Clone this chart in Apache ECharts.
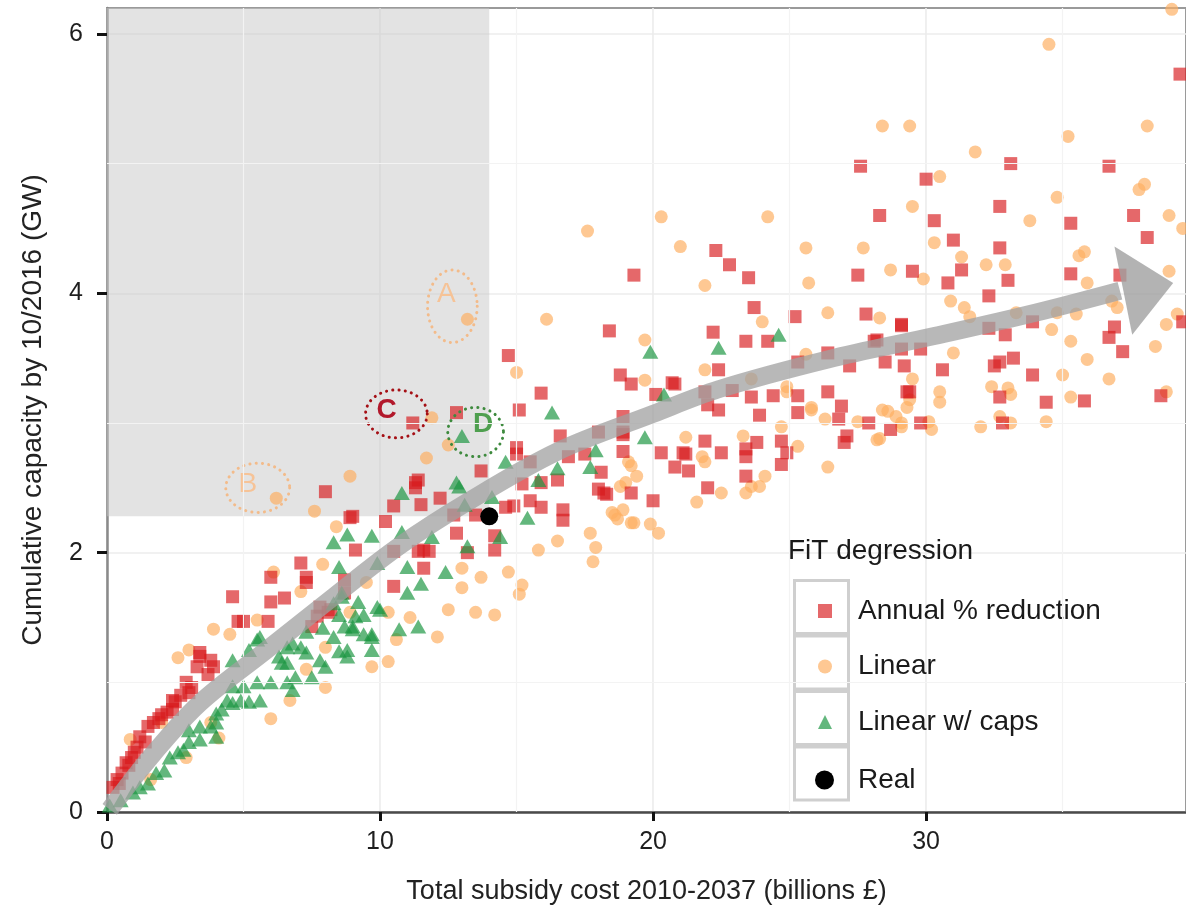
<!DOCTYPE html>
<html>
<head>
<meta charset="utf-8">
<script src="https://cdn.jsdelivr.net/npm/echarts@6/dist/echarts.min.js"></script>
<style>
html,body{margin:0;padding:0;background:#fff;}
#chart{width:1186px;height:913px;}
</style>
</head>
<body>
<div id="chart"></div>
<script>
// ---------------- DATA ----------------
const xTicks = [0, 10, 20, 30];
const yTicks = [0, 2, 4, 6];
const minorGridX = [5, 15, 25, 35];
const minorGridY = [1, 3, 5];
const seriesNames = ['Annual % reduction', 'Linear', 'Linear w/ caps', 'Real'];

const annualReduction = [
[0.22,0.19],[0.37,0.25],[0.55,0.30],[0.7,0.38],[1.0,0.46],[1.2,0.58],[1.4,0.54],[1.5,0.66],[1.7,0.69],[2.2,0.77],
[2.4,0.79],[2.5,0.85],[2.4,0.86],[3.1,0.96],[3.0,0.92],[3.7,1.06],[3.3,1.12],[3.9,1.12],[3.8,1.17],[3.4,1.23],
[3.4,1.2],[4.6,1.66],[4.8,1.47],[5.0,1.47],[5.9,1.47],[6.0,1.62],[6.5,1.65],[6.0,1.81],[7.1,1.92],[7.3,1.81],
[7.3,1.77],[7.5,1.43],[7.7,1.51],[8.2,1.56],[7.8,1.58],[8.1,1.54],[8.7,1.79],[8.7,1.69],[8.0,2.47],[8.9,2.27],
[9.1,2.02],[10.2,2.24],[10.5,2.36],[10.5,2.01],[10.5,1.74],[11.4,2.01],[11.8,2.01],[11.6,1.88],[11.6,2.02],[11.3,2.54],
[11.4,2.56],[11.3,2.5],[11.5,2.37],[12.2,2.42],[12.7,2.29],[12.8,2.15],[13.2,2.0],[13.5,2.29],[13.7,2.63],[14.2,2.02],
[14.2,2.13],[14.6,2.35],[14.9,2.36],[15.0,2.81],[15.0,2.76],[15.5,2.7],[15.2,2.53],[16.5,2.56],[16.9,2.74],[16.6,2.9],
[18.1,2.62],[18.9,2.78],[18.9,2.91],[15.5,2.4],[15.9,2.35],[16.7,2.33],[16.7,2.25],[18.0,2.49],[18.3,2.45],[19.2,2.46],
[20.0,2.4],[11.2,3.0],[12.8,3.08],[15.9,2.54],[14.7,3.52],[15.9,3.23],[15.1,3.1],[9.0,2.28],
[0.9,0.42],[1.1,0.5],[1.9,0.72],[2.0,0.75],[2.7,0.9],[2.9,1.0],[0.45,0.22],[0.8,0.36],
[18.0,2.93],[18.9,3.05],[18.9,2.93],[20.7,3.31],[21.9,3.24],[22.4,3.1],[22.0,3.14],[21.1,2.77],[21.3,2.63],[20.8,2.66],
[22.0,2.5],[23.4,2.59],[23.4,2.74],[23.4,2.8],[24.7,2.86],[24.7,2.68],[24.9,2.77],[18.2,2.46],[17.5,2.76],[22.5,2.77],
[21.2,2.76],[20.3,2.77],[21.9,2.86],[23.8,2.85],
[18.8,3.37],[19.2,3.3],[20.8,3.3],[20.1,3.22],[22.9,3.25],[23.6,3.2],[24.4,3.21],[25.3,3.21],[26.4,3.24],[26.9,3.13],
[29.3,3.24],[23.9,3.06],[25.3,3.08],[26.8,3.03],[27.9,3.0],[28.7,2.95],[27.1,2.9],[27.0,2.85],
[22.4,3.41],[26.4,3.54],[28.2,3.64],[27.2,3.44],[28.5,3.47],[29.2,3.44],[25.3,3.47],[22.2,3.7],[23.4,3.63],[24.2,3.63],
[18.4,3.71],[23.7,3.89],[25.2,3.82],[27.8,3.84],[29.1,3.75],[19.3,4.14],[22.3,4.33],[22.8,4.22],[23.5,4.12],[27.5,4.14],
[27.6,4.98],[28.3,4.6],[28.1,3.63],[29.1,3.57],[29.8,3.57],[29.8,3.0],
[39.3,5.69],[33.1,5.0],[36.7,4.98],[30.0,4.88],[32.7,4.67],[30.3,4.56],[35.3,4.54],[37.6,4.6],[38.1,4.43],[31.0,4.41],
[32.7,4.35],[29.5,4.17],[31.3,4.18],[30.8,4.08],[33.0,4.1],[35.3,4.15],[37.1,4.14],[32.3,3.98],[29.1,3.76],[32.3,3.73],
[32.9,3.68],[33.9,3.78],[36.9,3.74],[36.7,3.66],[37.2,3.55],[30.6,3.41],[32.5,3.44],[32.7,3.47],[33.2,3.5],[33.9,3.37],
[29.4,3.24],[32.7,3.2],[34.4,3.16],[35.8,3.17],[38.6,3.21],[32.8,3.0],[39.4,3.78]
];

const linear = [
[0.85,0.56],[1.6,0.25],[2.0,0.69],[2.9,0.42],[3.8,0.69],[4.1,0.57],[2.6,1.19],[3.0,1.25],[3.9,1.41],[4.5,1.37],
[5.5,1.48],[6.0,0.72],[6.7,0.86],[7.3,1.1],[8.0,0.96],[8.0,1.27],[8.9,1.54],[9.5,1.77],[7.9,1.91],[7.1,1.7],
[6.1,1.85],[9.7,1.12],[10.3,1.16],[10.6,1.33],[12.1,1.35],[10.3,1.54],[11.1,1.5],[12.5,1.56],[13.5,1.54],[14.2,1.52],
[13.0,1.88],[13.7,1.81],[13.0,1.73],[14.7,1.85],[15.2,1.75],[15.1,1.68],[15.8,2.02],[16.5,2.09],[17.7,2.15],[17.9,2.04],
[17.8,1.93],[18.6,2.29],[19.2,2.23],[19.0,2.54],[19.2,2.67],
[8.9,2.59],[11.7,2.73],[12.5,2.83],[7.6,2.32],[6.2,2.42],[13.2,3.8],[8.4,2.2],[11.9,3.04],[15.0,3.39],[16.1,3.8],
[19.7,3.64],[21.0,4.36],[20.3,4.59],[17.6,4.48],[21.9,4.06],[24.2,4.59],[25.6,4.35],[25.7,4.08],[27.7,4.35],[28.7,4.18],
[24.0,3.78],[26.4,3.85],[28.3,3.81],[25.6,3.53],[21.9,3.41],[19.7,3.33],[24.9,3.24],[25.8,3.1],[26.3,3.03],[27.5,3.01],
[28.6,3.09],[29.1,3.0],[28.3,2.88],[24.7,2.97],[23.6,3.34],[24.9,3.28],[21.2,2.89],[21.8,2.74],[23.3,2.9],[25.3,2.82],
[24.1,2.59],[23.6,2.51],[22.5,2.46],[23.4,2.46],[21.6,2.39],[26.4,2.66],[19.4,2.59],[18.8,2.51],[18.9,2.33],[19.3,2.23],
[19.9,2.22],[20.2,2.15],[18.5,2.31],[18.7,2.26],[23.9,2.51],[21.9,2.7],[19.1,2.7],[28.4,3.1],[28.9,3.05],[29.3,3.12],
[28.2,2.87],[25.8,3.12],
[39.0,6.19],[34.5,5.92],[28.4,5.29],[29.4,5.29],[38.1,5.29],[31.8,5.09],[35.2,5.21],[30.5,4.9],[29.5,4.67],[34.8,4.74],
[33.8,4.56],[37.8,4.8],[38.0,4.84],[38.9,4.6],[39.4,4.5],[30.3,4.39],[31.3,4.28],[32.2,4.22],[32.9,4.22],[35.6,4.29],
[35.8,4.32],[35.9,4.08],[38.9,4.17],[29.9,4.11],[30.9,3.94],[31.4,3.89],[31.6,3.82],[33.3,3.85],[34.8,3.85],[35.5,3.84],
[34.6,3.72],[36.8,3.94],[37.0,3.89],[38.8,3.76],[39.2,3.84],[35.3,3.63],[35.9,3.49],[38.4,3.59],[31.0,3.54],[35.0,3.37],
[36.7,3.34],[32.4,3.28],[33.0,3.27],[33.1,3.22],[30.5,3.24],[30.5,3.16],[29.5,3.34],[29.4,3.18],[35.3,3.2],[38.8,3.24],
[32.0,2.97],[32.7,3.05],[33.1,3.0],[34.4,3.01],[30.2,2.95],[30.1,3.01],[29.1,2.97]
];

const linearCaps = [
[0.1,0.05],[0.5,0.09],[0.95,0.15],[1.2,0.19],[1.5,0.22],[1.8,0.30],[2.1,0.32],[2.3,0.42],[2.6,0.46],[2.8,0.48],
[3.0,0.54],[3.4,0.56],[4.0,0.58],[3.0,0.63],[3.4,0.66],[3.8,0.66],[4.0,0.69],[4.0,0.76],[4.2,0.79],[4.4,0.86],
[4.9,0.86],[5.2,0.85],[5.6,0.86],[4.6,0.84],[4.6,0.97],[5.0,0.97],[5.5,1.0],[6.0,1.0],[6.6,1.0],[6.9,1.04],
[7.5,1.04],[6.8,0.94],[6.4,1.15],[6.6,1.15],[6.3,1.2],[7.8,1.17],[8.0,1.12],[7.1,1.27],[7.3,1.23],[6.6,1.27],
[5.5,1.33],[5.2,1.25],[4.6,1.17],[5.6,1.35],[6.8,1.3],[7.3,1.39],[7.9,1.42],[8.7,1.43],[9.0,1.43],[9.4,1.37],
[9.7,1.37],[8.5,1.24],[8.8,1.2],[9.7,1.25],[8.3,1.35],[9.0,1.41],[9.7,1.35],[8.8,1.25],[9.2,1.62],[8.6,1.66],
[9.9,1.58],[9.1,1.51],[9.4,1.52],[8.3,1.61],[8.5,1.52],[10.0,1.56],[10.7,1.41],[11.4,1.43],[8.6,1.69],[8.5,1.89],
[8.3,2.08],[8.8,2.14],[9.7,2.13],[9.9,1.92],[10.8,2.16],[11.0,1.89],[11.0,1.69],[11.5,1.76],[12.4,1.85],[11.9,2.12],
[13.2,2.05],[12.9,2.51],[10.8,2.46],[12.8,2.54],[13.1,2.37],[14.1,2.43],[14.4,2.12],[13.0,2.9],[14.6,2.7],[15.8,2.56],
[16.5,2.65],[17.9,2.79],[17.7,2.66],[15.4,2.27],[16.3,3.08],[19.7,2.89],[19.9,3.55],[22.4,3.58],[24.6,3.68],[20.4,3.22]
];

const real = [[14.0, 2.28]];

// ---------------- ANNOTATIONS (data units) ----------------
const arrowPath = [[0.1,0.02],[1.7,0.45],[3.4,0.84],[5.85,1.25],[8.3,1.66],[10.7,2.05],[13.2,2.39],[16.5,2.78],
  [20,3.07],[22.4,3.26],[26.4,3.49],[30.3,3.67],[34,3.85],[37.1,4.02]];
const arrowHead = [[39.05,4.08],[36.9,4.36],[37.55,3.68]];
const calloutLetters = ['A','B','C','D'];
const calloutCenters = [[12.65,3.9],[5.52,2.5],[10.6,3.07],[13.5,2.93]];
const calloutRadii = [[0.91,0.28],[1.17,0.19],[1.13,0.185],[1.02,0.19]];
const calloutLetterPos = [[12.43,3.99],[5.16,2.53],[10.24,3.1],[13.78,2.99]];
const calloutTextColors = ['#f6c397','#f6c397','#b2182b','#4f9f4f'];
const calloutRingColors = ['#f3bb8a','#f3bb8a','#a50f15','#3d8a3d'];
const calloutWeights = ['normal','normal','bold','bold'];

// ---------------- CHART ----------------
const FONT = 'Liberation Sans, Arial, sans-serif';
const chart = echarts.init(document.getElementById('chart'), null, {renderer:'canvas'});

const COL_RED = 'rgba(215,25,28,0.82)';
const COL_ORANGE = 'rgba(253,174,97,0.85)';
const COL_GREEN = 'rgba(26,150,65,0.85)';

const minorLines = minorGridX.map(v => ({xAxis: v})).concat(minorGridY.map(v => ({yAxis: v})));

const option = {
  animation: false,
  backgroundColor: '#ffffff',
  title: {
    text: 'FiT degression',
    left: 783, top: 532,
    textStyle: {fontFamily: FONT, fontSize: 28, fontWeight: 'normal', color: '#1a1a1a'}
  },
  grid: {
    left: 107, right: -2, top: 8, bottom: 101,
    show: true, borderColor: '#9a9a9a', borderWidth: 2, backgroundColor: 'transparent'
  },
  xAxis: {
    type: 'value', min: 0, max: 39.52,
    name: 'Total subsidy cost 2010-2037 (billions £)',
    nameLocation: 'middle', nameGap: 66,
    nameTextStyle: {fontFamily: FONT, fontSize: 27, color: '#222222'},
    axisLine: {show: true, onZero: false, lineStyle: {color: '#4a4a4a', width: 2.5}},
    axisTick: {show: true, length: 9, customValues: xTicks, lineStyle: {color: '#111111', width: 3}},
    axisLabel: {customValues: xTicks, fontFamily: FONT, fontSize: 25, color: '#1e1e1e', margin: 18},
    splitLine: {show: true, lineStyle: {color: '#ececec', width: 1.6}}
  },
  yAxis: {
    type: 'value', min: 0, max: 6.2,
    name: 'Cumulative capacity by 10/2016 (GW)',
    nameLocation: 'middle', nameGap: 60, nameRotate: 90,
    nameTextStyle: {fontFamily: FONT, fontSize: 28, color: '#222222'},
    axisLine: {show: true, onZero: false, lineStyle: {color: '#8a8a8a', width: 2.5}},
    axisTick: {show: true, length: 10, customValues: yTicks, lineStyle: {color: '#111111', width: 3}},
    axisLabel: {customValues: yTicks, fontFamily: FONT, fontSize: 25, color: '#1e1e1e', margin: 24},
    splitLine: {show: true, lineStyle: {color: '#ececec', width: 1.6}}
  },
  legend: [
    {
      data: seriesNames.slice(0, 3),
      orient: 'vertical', left: 813, top: 591,
      itemWidth: 14, itemHeight: 14, itemGap: 25.5,
      selectedMode: false,
      textStyle: {fontFamily: FONT, fontSize: 28, color: '#1a1a1a', lineHeight: 30, padding: [0,0,0,21]}
    },
    {
      data: [seriesNames[3]],
      orient: 'vertical', left: 810, top: 760,
      itemWidth: 19, itemHeight: 19, itemGap: 25.5,
      selectedMode: false,
      textStyle: {fontFamily: FONT, fontSize: 28, color: '#1a1a1a', lineHeight: 30, padding: [0,0,0,19]}
    }
  ],
  graphic: [0,1,2,3].map(i => ({
    type: 'rect', left: 793, top: 579 + i * 55.5, z: 1,
    shape: {width: 54, height: 53},
    style: {fill: '#ffffff', stroke: '#cfcfcf', lineWidth: 3}
  })),
  series: [
    {
      name: 'minorGrid', type: 'scatter', data: [], silent: true, z: 0,
      markLine: {
        silent: true, symbol: ['none','none'], label: {show: false},
        lineStyle: {color: '#f3f3f3', width: 1.2, type: 'solid'},
        data: minorLines
      }
    },
    {
      name: 'shade', type: 'scatter', data: [], silent: true, z: 1,
      markArea: {
        silent: true,
        itemStyle: {color: 'rgba(200,200,200,0.5)'},
        data: [[{coord: [0, real[0][1]]}, {coord: [real[0][0], 6.2]}]]
      }
    },
    {
      name: seriesNames[1], type: 'scatter', data: linear, symbol: 'circle', symbolSize: 13, z: 2,
      itemStyle: {color: COL_ORANGE}
    },
    {
      name: seriesNames[0], type: 'scatter', data: annualReduction, symbol: 'rect', symbolSize: 13, z: 2,
      itemStyle: {color: COL_RED}
    },
    {
      name: seriesNames[2], type: 'scatter', data: linearCaps, symbol: 'triangle', symbolSize: [16, 14], z: 2,
      itemStyle: {color: COL_GREEN}
    },
    {
      name: seriesNames[3], type: 'scatter', data: real, symbol: 'circle', symbolSize: 18, z: 3,
      itemStyle: {color: '#000000', opacity: 1}
    },
    {
      name: 'callouts', type: 'custom', silent: true, z: 4,
      data: calloutLetters.map((_, i) => [i]),
      renderItem: function (params, api) {
        const i = api.value(0);
        const c = api.coord(calloutCenters[i]);
        const r = api.size(calloutRadii[i]);
        const pts = [];
        for (let k = 0; k < 72; k++) {
          const a = k / 72 * Math.PI * 2;
          pts.push([c[0] + r[0] * Math.cos(a), c[1] + r[1] * Math.sin(a)]);
        }
        const tp = api.coord(calloutLetterPos[i]);
        return {
          type: 'group',
          children: [
            {type: 'polygon', shape: {points: pts},
             style: {fill: 'none', stroke: calloutRingColors[i], lineWidth: 3, lineDash: [0.1, 6.2], lineCap: 'round'}},
            {type: 'text', x: tp[0], y: tp[1],
             style: {text: calloutLetters[i], fill: calloutTextColors[i], fontSize: 28, fontFamily: FONT,
                     fontWeight: calloutWeights[i], align: 'center', verticalAlign: 'middle'}}
          ]
        };
      }
    },
    {
      name: 'trendArrow', type: 'line', data: arrowPath, smooth: 0.35, symbol: 'none', silent: true, z: 5,
      lineStyle: {width: 18, color: 'rgba(160,160,160,0.75)', cap: 'butt'}
    },
    {
      name: 'trendArrowHead', type: 'custom', silent: true, z: 5,
      data: [[0]],
      renderItem: function (params, api) {
        return {
          type: 'polygon',
          shape: {points: arrowHead.map(p => api.coord(p))},
          style: {fill: 'rgba(160,160,160,0.8)'}
        };
      }
    }
  ]
};
chart.setOption(option);
</script>
</body>
</html>
